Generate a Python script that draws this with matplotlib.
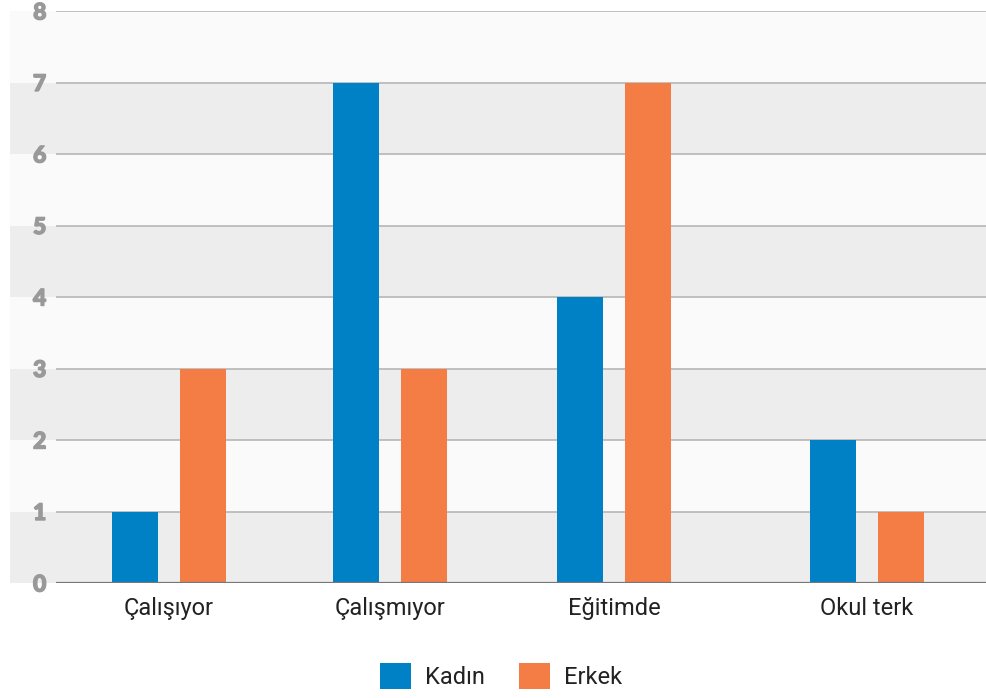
import matplotlib
matplotlib.use("Agg")
import matplotlib.pyplot as plt
from matplotlib.patches import Patch
import matplotlib.patheffects as pe

categories = ["Çalışıyor", "Çalışmıyor", "Eğitimde", "Okul terk"]
kadin = [1, 7, 4, 2]
erkek = [3, 3, 7, 1]
series_names = ["Kadın", "Erkek"]
y_ticks = [0, 1, 2, 3, 4, 5, 6, 7, 8]

# layout (category centre positions, irregular as in the reference)
group_pos = [0.0, 1.0, 2.014, 3.158]
bar_w = 0.208
offset = 0.154

BLUE = "#0081C6"
ORANGE = "#F47D46"
LIGHT = "#FAFAFA"
DARK = "#EDEDED"

W, H = 987, 698
fig = plt.figure(figsize=(W / 100, H / 100), dpi=100)
ax_left, ax_right, ax_top, ax_bot = 56, 987, 11, 583
ax = fig.add_axes([ax_left / W, 1 - ax_bot / H, (ax_right - ax_left) / W, (ax_bot - ax_top) / H])
ax.set_xlim(-0.511, 3.701)
ax.set_ylim(0, 8)
for s in ax.spines.values():
    s.set_visible(False)
ax.patch.set_visible(False)

# alternating bands extending to the left edge
xmin_band = (10 - ax_left) / (ax_right - ax_left)
for i in range(len(y_ticks) - 1):
    col = DARK if i % 2 == 0 else LIGHT
    ax.axhspan(y_ticks[i], y_ticks[i + 1], xmin=xmin_band, xmax=1, color=col, zorder=0, clip_on=False, lw=0)

for t in y_ticks[1:]:
    ax.axhline(t, color="#BBBBBB", lw=1.3, zorder=1)
ax.axhline(0, color="#777777", lw=1.6, zorder=4)

xk = [p - offset for p in group_pos]
xe = [p + offset for p in group_pos]
ax.bar(xk, kadin, width=bar_w, color=BLUE, zorder=3, label=series_names[0])
ax.bar(xe, erkek, width=bar_w, color=ORANGE, zorder=3, label=series_names[1])

ax.set_yticks(y_ticks)
ax.set_yticklabels([str(t) for t in y_ticks], fontfamily="Lato", fontweight="black",
                   fontsize=16.5, color="#999999")
for lbl in ax.get_yticklabels():
    lbl.set_path_effects([pe.withStroke(linewidth=1.0, foreground="#999999")])
ax.tick_params(axis="y", length=0, pad=7)
ax.set_xticks(group_pos)
ax.set_xticklabels(categories, fontfamily="Roboto", fontsize=17, color="#222222")
ax.tick_params(axis="x", length=0, pad=10)

handles = [Patch(facecolor=BLUE, edgecolor="none"), Patch(facecolor=ORANGE, edgecolor="none")]
leg = fig.legend(handles, series_names, loc="center", bbox_to_anchor=(501 / W, 1 - 676 / H),
                 ncol=2, frameon=False, handlelength=1.3, handleheight=1.3,
                 handletextpad=0.6, columnspacing=1.45,
                 prop={"family": "Roboto", "size": 17})
for t in leg.get_texts():
    t.set_color("#222222")

fig.savefig("out.png", dpi=100, facecolor="white")
